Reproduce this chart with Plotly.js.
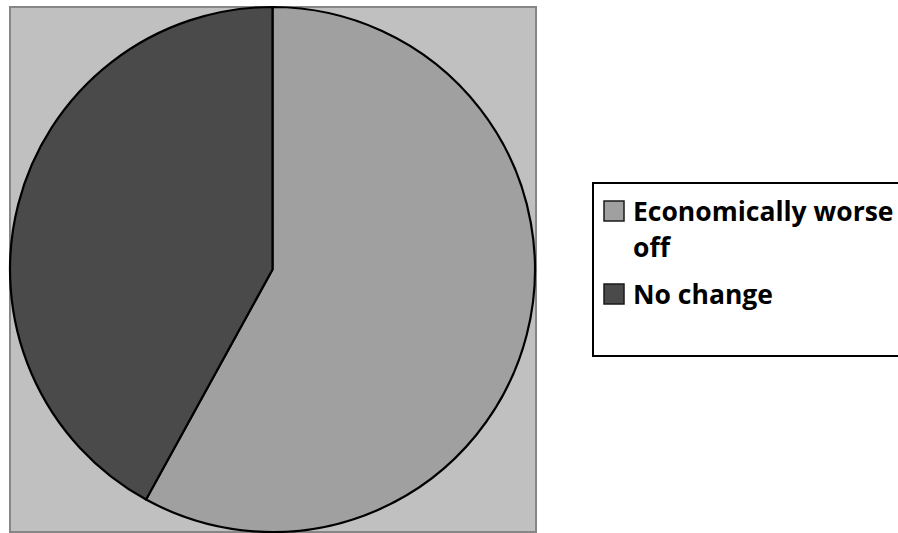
<!DOCTYPE html>
<html>
<head>
<meta charset="utf-8">
<script src="https://cdn.plot.ly/plotly-3.0.1.min.js"></script>
<style>
  html, body { margin: 0; padding: 0; background: #ffffff; }
  #chart { width: 898px; height: 533px; }
</style>
</head>
<body>
<div id="chart"></div>
<script>
// ---- data ----
const categories = ["Economically worse off", "No change"];
const values = [58, 42];
const sliceColors = ["#a0a0a0", "#4a4a4a"];

// ---- layout helpers (pixel -> paper) ----
const W = 898, H = 533;
const px = x => x / W;
const py = y => (H - y) / H;

// wrap legend label text the way the original legend does
function wrap(label, maxChars) {
  const words = label.split(" ");
  const lines = [];
  let cur = "";
  words.forEach(w => {
    const t = cur ? cur + " " + w : w;
    if (t.length > maxChars && cur) { lines.push(cur); cur = w; }
    else cur = t;
  });
  if (cur) lines.push(cur);
  return lines;
}

const pie = {
  type: "pie",
  labels: categories,
  values: values,
  sort: false,
  direction: "clockwise",
  rotation: 0,
  textinfo: "none",
  hoverinfo: "label+percent",
  showlegend: false,
  marker: { colors: sliceColors, line: { color: "#000000", width: 2.2 } },
  domain: { x: [px(10), px(535)], y: [py(532), py(7)] }
};

const shapes = [
  // plot-area background
  { type: "rect", xref: "paper", yref: "paper", layer: "below",
    x0: px(10), x1: px(536), y0: py(532), y1: py(7),
    fillcolor: "#c0c0c0", line: { color: "#868686", width: 2 } },
  // legend box
  { type: "rect", xref: "paper", yref: "paper", layer: "below",
    x0: px(593), x1: px(920), y0: py(356), y1: py(183),
    fillcolor: "#ffffff", line: { color: "#000000", width: 2 } }
];

const annotations = [];
const fontSpec = { family: "'Open Sans', Lato, sans-serif", size: 26.5, color: "#000000" };
const itemTop = [211, 294];   // centre of first text line of each item (px)
const lineGap = 36;
categories.forEach((cat, i) => {
  const lines = wrap(cat, 18);
  // legend swatch
  shapes.push({ type: "rect", xref: "paper", yref: "paper",
    x0: px(604), x1: px(624), y0: py(itemTop[i] + 10), y1: py(itemTop[i] - 10),
    fillcolor: sliceColors[i], line: { color: "#1a1a1a", width: 1.5 } });
  lines.forEach((ln, j) => {
    annotations.push({ xref: "paper", yref: "paper", showarrow: false,
      x: px(631), y: py(itemTop[i] + j * lineGap), xanchor: "left", yanchor: "middle",
      text: "<b>" + ln + "</b>", font: fontSpec });
  });
});

const layout = {
  width: W, height: H,
  margin: { l: 0, r: 0, t: 0, b: 0 },
  paper_bgcolor: "#ffffff",
  showlegend: false,
  shapes: shapes,
  annotations: annotations
};

Plotly.newPlot("chart", [pie], layout, { displayModeBar: false, staticPlot: true });
</script>
</body>
</html>
